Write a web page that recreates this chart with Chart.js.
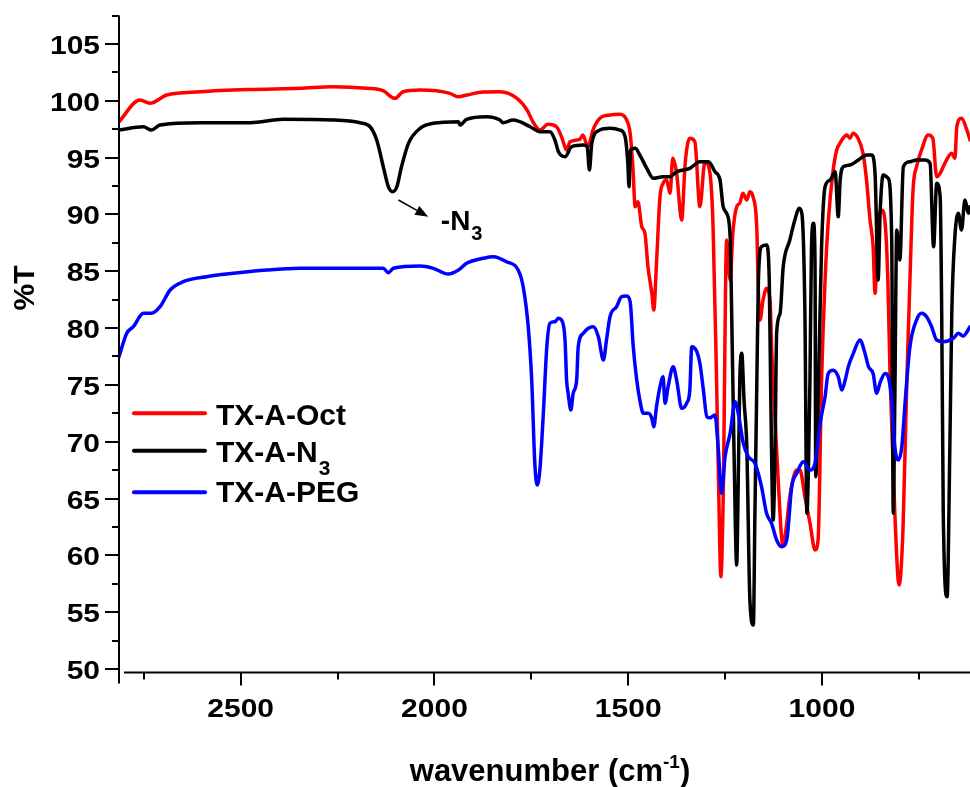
<!DOCTYPE html>
<html><head><meta charset="utf-8">
<script src="https://cdn.jsdelivr.net/npm/chart.js@4.4.1/dist/chart.umd.min.js"></script>
<style>html,body{margin:0;padding:0;background:#fff;}#wrap{width:970px;height:787px;}</style>
</head><body><div id="wrap"><canvas id="c" width="970" height="787"></canvas></div>
<script>
// ---- data ----
const seriesLabels = ['TX-A-Oct', 'TX-A-N3', 'TX-A-PEG'];
const seriesColors = ['#ff0000', '#000000', '#0000ff'];

const octWavenumber = [2814,2760,2734,2691,2605,2476,2347,2262,2174,2133,
 2102,2081,2037,1960,1939,1916,1875,1831,1787,1761,
 1746,1728,1707,1685,1672,1659,1650,1625,1617,1604,
 1591,1573,1547,1521,1504,1495,1488,1482,1475,1465,
 1457,1449,1439,1434,1427,1418,1410,1401,1392,1385,
 1375,1362,1353,1341,1328,1315,1302,1289,1281,1272,
 1266,1261,1255,1246,1237,1230,1220,1212,1204,1194,
 1186,1178,1168,1165,1160,1152,1143,1134,1130,1126,
 1113,1101,1093,1083,1065,1057,1044,1031,1018,1010,
 1001,992,984,972,962,953,946,936,928,920,
 907,894,885,876,868,863,859,855,846,837,
 830,824,812,801,791,781,773,765,756,743,
 726,714,704,695,683,665,657,652,640,626,
 618];
const octT = [98.16,100.07,99.78,100.51,100.8,101.0,101.1,101.24,101.1,100.89,
 100.22,100.8,100.95,100.66,100.36,100.51,100.77,100.8,100.22,99.19,
 98.16,97.43,97.93,97.72,96.84,95.67,96.4,96.6,96.99,95.96,
 97.43,98.46,98.75,98.81,98.31,97.14,94.2,90.68,91.12,88.92,
 88.37,85.4,83.06,81.59,85.7,91.56,92.74,93.03,91.86,94.94,
 93.62,89.51,94.5,96.7,96.4,90.68,94.64,93.62,88.92,75.43,
 64.87,58.12,64.87,87.75,84.23,88.37,90.68,91.0,91.86,91.27,
 92.0,91.56,88.63,84.23,80.71,82.47,83.5,82.47,78.36,75.43,
 66.63,60.91,62.23,65.16,67.51,67.51,65.16,62.85,60.47,61.35,
 75.43,84.23,89.25,93.65,95.67,96.29,96.7,96.99,96.7,97.14,
 96.7,95.38,93.03,89.51,87.16,83.06,85.7,89.51,90.39,89.25,
 84.23,75.43,63.73,57.39,62.23,75.43,84.23,92.15,94.2,95.67,
 96.99,96.7,93.32,93.62,94.5,95.38,94.94,97.72,98.46,97.43,
 96.55];

const n3Wavenumber = [2814,2751,2730,2708,2605,2476,2390,2261,2192,2166,
 2149,2132,2119,2108,2097,2085,2067,2037,2003,1938,
 1934,1917,1865,1831,1823,1797,1753,1728,1702,1689,
 1680,1663,1646,1616,1606,1600,1594,1573,1547,1521,
 1508,1501,1498,1494,1482,1470,1452,1435,1410,1392,
 1375,1341,1315,1293,1276,1263,1255,1246,1237,1233,
 1227,1220,1216,1212,1207,1201,1194,1186,1177,1173,
 1168,1164,1156,1143,1136,1132,1126,1121,1117,1108,
 1100,1083,1070,1059,1052,1044,1039,1035,1031,1027,
 1022,1018,1016,1010,1001,992,979,966,958,953,
 945,928,906,885,872,863,855,850,842,829,
 820,816,812,807,799,790,773,756,735,721,
 712,704,695,691,687,677,670,665,657,648,
 640,631,622,618];
const n3T = [97.43,97.72,97.43,97.87,98.07,98.07,98.37,98.31,98.07,97.72,
 96.55,94.2,92.44,92.0,92.44,94.2,96.26,97.58,98.02,98.16,
 97.87,98.37,98.6,98.31,98.07,98.31,97.72,97.28,97.28,96.55,
 95.52,95.08,95.96,96.11,95.96,93.91,96.26,97.43,97.58,97.43,
 96.84,94.5,92.44,95.67,95.82,95.23,94.06,93.18,93.32,93.32,
 93.76,94.06,94.64,94.64,93.76,93.03,90.68,90.1,88.04,81.3,
 69.27,59.15,66.63,75.43,77.78,73.6,69.56,56.07,53.87,63.7,
 75.43,84.23,87.16,87.31,84.23,73.67,63.11,69.27,79.54,81.3,
 85.4,87.75,89.51,90.54,90.1,81.3,63.7,67.51,75.43,87.16,
 89.22,86.0,66.92,73.67,87.16,92.44,93.03,93.76,89.8,93.03,
 94.2,94.35,94.79,95.23,95.23,93.62,84.23,90.1,93.47,93.18,
 87.75,63.7,73.67,88.63,85.99,94.2,94.64,94.79,94.79,94.5,
 87.16,92.74,91.56,81.3,63.7,56.36,69.56,81.3,88.04,90.1,
 88.63,91.27,90.1,90.68];

const pegWavenumber = [2814,2794,2777,2751,2730,2708,2682,2648,2588,2519,
 2433,2347,2218,2132,2119,2106,2037,2003,1964,1938,
 1917,1874,1848,1814,1784,1771,1758,1749,1741,1735,
 1728,1719,1710,1702,1689,1680,1672,1663,1659,1655,
 1648,1642,1633,1629,1616,1603,1590,1577,1564,1556,
 1547,1530,1517,1504,1495,1487,1478,1470,1461,1448,
 1439,1434,1427,1418,1410,1405,1397,1384,1375,1362,
 1349,1341,1336,1323,1315,1306,1297,1289,1276,1268,
 1259,1250,1237,1224,1216,1203,1190,1173,1156,1143,
 1130,1117,1104,1091,1078,1065,1048,1031,1018,1005,
 992,984,971,958,949,940,932,919,902,889,
 880,868,859,850,837,830,820,812,803,794,
 785,773,756,743,730,717,704,686,661,648,
 636,618];
const pegT = [77.48,79.54,80.12,81.3,81.3,81.88,83.35,84.08,84.52,84.82,
 85.11,85.26,85.26,85.26,84.87,85.26,85.46,85.26,84.76,85.11,
 85.7,86.14,86.28,85.84,85.11,83.64,80.12,75.43,68.1,66.19,
 67.51,72.5,78.36,80.42,80.56,80.86,80.7,78.95,75.43,74.26,
 72.79,74.26,75.43,78.36,79.54,79.98,80.12,79.24,77.19,78.95,
 81.0,81.88,82.76,82.82,82.32,78.36,75.43,73.67,72.5,72.5,
 72.05,71.32,73.08,74.84,75.72,73.38,74.84,76.6,75.43,72.94,
 73.4,74.55,78.36,77.93,76.9,74.55,72.2,72.1,72.35,69.56,
 65.46,68.69,70.74,73.52,72.5,69.86,68.69,68.1,66.04,63.7,
 62.82,61.35,60.76,61.35,66.04,67.22,68.24,67.51,68.1,71.61,
 73.96,76.0,76.3,75.72,74.55,75.43,76.6,77.78,78.95,77.78,
 76.6,76.0,74.26,75.2,76.0,75.8,73.67,69.56,68.39,69.56,
 73.67,78.36,80.71,81.3,81.0,80.12,78.95,78.8,79.1,79.54,
 79.3,80.12];

const xTicks = [2500, 2000, 1500, 1000];
const xTickLabels = ['2500', '2000', '1500', '1000'];
const xMinorTicks = [2750, 2250, 1750, 1250, 750];
const yTicks = [50, 55, 60, 65, 70, 75, 80, 85, 90, 95, 100, 105];
const yTickLabels = ['50', '55', '60', '65', '70', '75', '80', '85', '90', '95', '100', '105'];
const yMinorTicks = [52.5, 57.5, 62.5, 67.5, 72.5, 77.5, 82.5, 87.5, 92.5, 97.5, 102.5, 107.5];
const xRange = [618, 2814];
const yRange = [49.7, 107.5];
const xTitle = ['wavenumber (cm', '-1', ')'];
const yTitle = '%T';
// annotation anchor (data units): arrow start, arrow end, text position
const n3Arrow = [[2093, 91.27], [2016, 89.8]];
const n3Label = [1981, 88.63];

// ---- helpers ----
const FONT = "'Liberation Sans', Arial, sans-serif";
function toXY(xs, ys) { return xs.map((v, i) => ({ x: v, y: ys[i] })); }

const axesPlugin = {
  id: 'axesPlugin',
  afterDraw(chart) {
    const { ctx, scales: { x, y }, chartArea: a } = chart;
    ctx.save();
    ctx.strokeStyle = '#000'; ctx.lineWidth = 2; ctx.lineCap = 'butt';
    const seg = (x1, y1, x2, y2) => { ctx.beginPath(); ctx.moveTo(x1, y1); ctx.lineTo(x2, y2); ctx.stroke(); };
    seg(a.left, a.top, a.left, a.bottom + 11);
    seg(a.left + 5, a.bottom, a.right, a.bottom);
    yTicks.forEach(v => { const p = Math.round(y.getPixelForValue(v)); seg(a.left - 14, p, a.left, p); });
    yMinorTicks.forEach(v => { const p = Math.round(y.getPixelForValue(v)); seg(a.left - 7, p, a.left, p); });
    xTicks.forEach(v => { const p = Math.round(x.getPixelForValue(v)); seg(p, a.bottom, p, a.bottom + 13); });
    xMinorTicks.forEach(v => { const p = Math.round(x.getPixelForValue(v)); seg(p, a.bottom, p, a.bottom + 7); });

    // tick labels (Origin-style wide bold digits)
    ctx.fillStyle = '#000';
    ctx.font = 'bold 25px ' + FONT;
    ctx.textBaseline = 'alphabetic';
    const sxk = 1.2;
    ctx.textAlign = 'right';
    yTicks.forEach((v, i) => {
      const p = y.getPixelForValue(v);
      ctx.save(); ctx.translate(a.left - 19, p + 10); ctx.scale(sxk, 1);
      ctx.fillText(yTickLabels[i], 0, 0); ctx.restore();
    });
    ctx.textAlign = 'center';
    xTicks.forEach((v, i) => {
      const p = x.getPixelForValue(v);
      ctx.save(); ctx.translate(p, a.bottom + 45); ctx.scale(sxk, 1);
      ctx.fillText(xTickLabels[i], 0, 0); ctx.restore();
    });

    // axis titles
    ctx.save();
    ctx.translate(26, 288); ctx.rotate(-Math.PI / 2);
    ctx.font = 'bold 30px ' + FONT; ctx.textAlign = 'center'; ctx.textBaseline = 'middle';
    ctx.fillText(yTitle, 0, 0);
    ctx.restore();

    const main = 'bold 31px ' + FONT, sup = 'bold 19px ' + FONT;
    ctx.textBaseline = 'alphabetic'; ctx.textAlign = 'left';
    ctx.font = main; const w1 = ctx.measureText(xTitle[0]).width; const w3 = ctx.measureText(xTitle[2]).width;
    ctx.font = sup; const w2 = ctx.measureText(xTitle[1]).width;
    let sx = 550 - (w1 + w2 + w3) / 2; const by = 781;
    ctx.font = main; ctx.fillText(xTitle[0], sx, by); sx += w1;
    ctx.font = sup; ctx.fillText(xTitle[1], sx, by - 13); sx += w2;
    ctx.font = main; ctx.fillText(xTitle[2], sx, by);
    ctx.restore();
  }
};

const legendPlugin = {
  id: 'legendPlugin',
  afterDraw(chart) {
    const { ctx, chartArea: a } = chart;
    const rowsY = [413.3, 450.7, 492.3];
    const baseY = [424.5, 461.5, 502];
    ctx.save();
    chart.data.datasets.forEach((ds, i) => {
      ctx.strokeStyle = ds.borderColor; ctx.lineWidth = 4; ctx.lineCap = 'round';
      ctx.beginPath(); ctx.moveTo(a.left + 15, rowsY[i]); ctx.lineTo(a.left + 86, rowsY[i]); ctx.stroke();
      ctx.fillStyle = '#000'; ctx.textAlign = 'left'; ctx.textBaseline = 'alphabetic';
      ctx.font = 'bold 30px ' + FONT;
      const lab = ds.label;
      const m = lab.match(/^(.*N)(\d)$/);
      if (m) {
        ctx.fillText(m[1], a.left + 97, baseY[i]);
        const w = ctx.measureText(m[1]).width;
        ctx.font = 'bold 21px ' + FONT;
        ctx.fillText(m[2], a.left + 97 + w + 1, baseY[i] + 13);
      } else {
        ctx.fillText(lab, a.left + 97, baseY[i]);
      }
    });
    ctx.restore();
  }
};

const annotationPlugin = {
  id: 'annotationPlugin',
  afterDraw(chart) {
    const { ctx, scales: { x, y } } = chart;
    const x1 = x.getPixelForValue(n3Arrow[0][0]), y1 = y.getPixelForValue(n3Arrow[0][1]);
    const x2 = x.getPixelForValue(n3Arrow[1][0]), y2 = y.getPixelForValue(n3Arrow[1][1]);
    ctx.save();
    ctx.strokeStyle = '#000'; ctx.fillStyle = '#000'; ctx.lineWidth = 1.5;
    const ang = Math.atan2(y2 - y1, x2 - x1);
    const hl = 13, hw = 5;
    const bx = x2 - hl * Math.cos(ang), byy = y2 - hl * Math.sin(ang);
    ctx.beginPath(); ctx.moveTo(x1, y1); ctx.lineTo(bx, byy); ctx.stroke();
    ctx.beginPath();
    ctx.moveTo(x2, y2);
    ctx.lineTo(bx + hw * Math.sin(ang), byy - hw * Math.cos(ang));
    ctx.lineTo(bx - hw * Math.sin(ang), byy + hw * Math.cos(ang));
    ctx.closePath(); ctx.fill();
    const tx = x.getPixelForValue(n3Label[0]), ty = y.getPixelForValue(n3Label[1]);
    ctx.font = 'bold 28px ' + FONT; ctx.textAlign = 'left'; ctx.textBaseline = 'alphabetic';
    ctx.fillText('-N', tx - 1, ty);
    const w = ctx.measureText('-N').width;
    ctx.font = 'bold 20px ' + FONT;
    ctx.fillText('3', tx - 1 + w + 1, ty + 10);
    ctx.restore();
  }
};

const mk = (i, xs, ys, order) => ({
  label: seriesLabels[i], data: toXY(xs, ys), borderColor: seriesColors[i], backgroundColor: seriesColors[i],
  borderWidth: 3.5, pointRadius: 0, fill: false, order: order,
  cubicInterpolationMode: 'monotone', borderJoinStyle: 'round', borderCapStyle: 'round'
});

new Chart(document.getElementById('c'), {
  type: 'line',
  data: { datasets: [
    mk(0, octWavenumber, octT, 2),
    mk(1, n3Wavenumber, n3T, 1),
    mk(2, pegWavenumber, pegT, 0)
  ] },
  options: {
    responsive: false, animation: false, events: [],
    layout: { padding: { top: 15.6, right: 0, left: 0, bottom: 0 } },
    plugins: { legend: { display: false }, tooltip: { enabled: false }, title: { display: false } },
    scales: {
      x: {
        type: 'linear', reverse: true, min: xRange[0], max: xRange[1],
        afterBuildTicks: s => { s.ticks = xTicks.map(v => ({ value: v })); },
        afterFit: s => { s.height = 787 - 672.4; },
        grid: { display: false, drawTicks: false }, border: { display: false },
        ticks: { display: false }
      },
      y: {
        type: 'linear', min: yRange[0], max: yRange[1],
        afterBuildTicks: s => { s.ticks = yTicks.map(v => ({ value: v })); },
        afterFit: s => { s.width = 119; },
        grid: { display: false, drawTicks: false }, border: { display: false },
        ticks: { display: false }
      }
    }
  },
  plugins: [axesPlugin, legendPlugin, annotationPlugin]
});
</script>
</body></html>
